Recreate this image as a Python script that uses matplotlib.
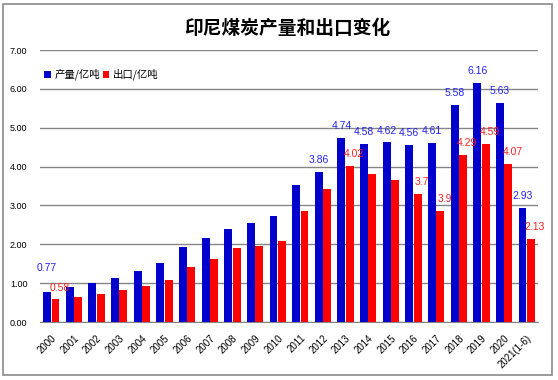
import matplotlib
matplotlib.use("Agg")
import matplotlib.pyplot as plt
from matplotlib.patches import Rectangle
import numpy as np

plt.rcParams['font.family'] = ['Liberation Sans', 'DejaVu Sans', 'Noto Sans CJK SC']

years = ["2000", "2001", "2002", "2003", "2004", "2005", "2006", "2007", "2008", "2009",
         "2010", "2011", "2012", "2013", "2014", "2015", "2016", "2017", "2018", "2019",
         "2020", "2021(1-6)"]
production = [0.77, 0.91, 1.00, 1.14, 1.32, 1.52, 1.93, 2.16, 2.39, 2.54,
              2.72, 3.52, 3.86, 4.74, 4.58, 4.62, 4.56, 4.61, 5.58, 6.16,
              5.63, 2.93]
export = [0.58, 0.64, 0.72, 0.83, 0.93, 1.09, 1.41, 1.62, 1.90, 1.96,
          2.08, 2.85, 3.43, 4.02, 3.80, 3.65, 3.29, 2.86, 4.29, 4.59,
          4.07, 2.13]
prod_labels = ["0.77", "", "", "", "", "", "", "", "", "", "", "", "3.86", "4.74", "4.58",
               "4.62", "4.56", "4.61", "5.58", "6.16", "5.63", "2.93"]
exp_labels = ["0.58", "", "", "", "", "", "", "", "", "", "", "", "", "4.02", "", "",
              "3.7", "3.9", "4.29", "4.59", "4.07", "2.13"]
yticks = [0, 1, 2, 3, 4, 5, 6, 7]

W, H = 558, 380
fig = plt.figure(figsize=(W / 100, H / 100), dpi=100)
fig.patch.set_facecolor("white")
fig.add_artist(Rectangle((3 / W, 5 / H), 549 / W, 371 / H, transform=fig.transFigure,
                         fill=False, edgecolor="#8a8a8a", linewidth=1.2))

ax = fig.add_axes([40 / W, (H - 322) / H, 498 / W, 272 / H])
x = np.arange(len(years))
bw = 0.35
off = 0.185
blue = "#0000CC"
red = "#FF0000"
ax.bar(x - off, production, bw, color=blue, zorder=3, label="产量/亿吨")
ax.bar(x + off, export, bw, color=red, zorder=3, label="出口/亿吨")

for i in range(len(years)):
    if prod_labels[i]:
        dy = 14 if i == 0 else 5
        ax.annotate(prod_labels[i], (x[i] - off, production[i]), xytext=(0, dy),
                    textcoords="offset points", ha="center", va="bottom",
                    fontsize=7.5, color="#2222EE", zorder=4)
    if exp_labels[i]:
        ax.annotate(exp_labels[i], (x[i] + off, export[i]), xytext=(3, 5),
                    textcoords="offset points", ha="center", va="bottom",
                    fontsize=7.5, color="#FF2020", zorder=4)

ax.set_xlim(-0.5, len(years) - 0.5)
ax.set_ylim(0, 7)
ax.set_yticks(yticks)
ax.set_yticklabels([f"{v:.2f}" for v in yticks], fontsize=6.5)
ax.yaxis.grid(True, color="#868686", linewidth=1, zorder=0)
ax.set_axisbelow(True)
ax.tick_params(axis="y", length=0, pad=9)
ax.tick_params(axis="x", length=0, pad=8)
ax.set_xticks(x)
ax.set_xticklabels(years, rotation=45, ha="right", rotation_mode="anchor", fontsize=7)
for s in ["left", "right", "top"]:
    ax.spines[s].set_visible(False)
ax.spines["bottom"].set_color("#868686")

ax.legend(loc="upper left", bbox_to_anchor=(-0.01, 0.965), ncol=2, frameon=False,
          handlelength=0.6, handleheight=0.6, handletextpad=0.35,
          columnspacing=0.3, prop={'family': ['Noto Sans CJK SC'], 'size': 7.5})

fig.text(287.5 / W, 1 - 28.5 / H, "印尼煤炭产量和出口变化", ha="center", va="center",
         fontsize=13.5, fontweight="bold", family=["Noto Sans CJK SC"])

fig.savefig("out.png", dpi=100)
